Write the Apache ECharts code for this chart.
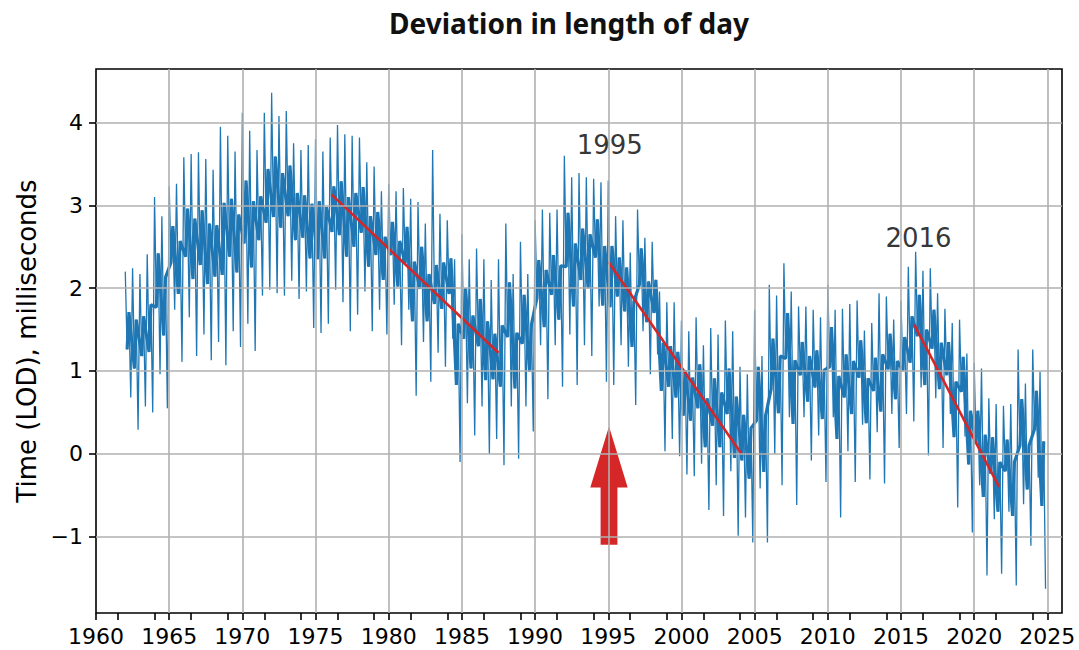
<!DOCTYPE html>
<html>
<head>
<meta charset="utf-8">
<title>Deviation in length of day</title>
<script src="https://cdn.jsdelivr.net/npm/echarts@6/dist/echarts.min.js"></script>
<style>
    html, body { margin: 0; padding: 0; background: #fff; }
    #main { width: 1079px; height: 650px; }
</style>
</head>
<body>
<div id="main"></div>
<script>
// LOD deviation in ms. 8 samples a year from 1962.0,
// each half year is: spike high, core low, core high, dip low
const lod1960s = [
    2.20, 1.26, 1.71, 0.68, 2.24, 1.03, 1.62, 0.29,   // 1962
    2.17, 1.18, 1.66, 0.57, 2.41, 1.23, 1.80, 0.50,   // 1963
    3.10, 1.77, 2.42, 0.96, 2.87, 1.43, 2.13, 0.55,   // 1964
    3.23, 2.31, 2.75, 1.74, 3.26, 1.93, 2.57, 1.11,   // 1965
    3.58, 2.38, 2.96, 1.65, 3.62, 2.11, 2.84, 1.18,   // 1966
    3.64, 2.28, 2.94, 1.44, 3.56, 2.05, 2.78, 1.13,   // 1967
    3.43, 2.14, 2.76, 1.35, 3.95, 2.16, 3.03, 1.07,   // 1968
    3.84, 2.38, 3.08, 1.48, 3.65, 2.19, 2.89, 1.29    // 1969
];
const lod1970s = [
    4.12, 2.54, 3.30, 1.57, 3.90, 2.25, 3.05, 1.24,   // 1970
    3.67, 2.58, 3.11, 1.91, 4.12, 2.79, 3.44, 1.98,
    4.36, 2.86, 3.59, 1.94, 4.08, 2.73, 3.39, 1.91,
    4.14, 2.87, 3.48, 2.09, 3.75, 2.58, 3.15, 1.87,
    3.67, 2.61, 3.12, 1.96, 3.73, 2.36, 3.02, 1.52,
    3.80, 2.35, 3.05, 1.46, 3.65, 2.36, 2.98, 1.57,   // 1975
    3.82, 2.68, 3.23, 1.98, 3.97, 2.64, 3.29, 1.83,
    3.86, 2.38, 3.10, 1.48, 3.84, 2.50, 3.15, 1.68,
    3.82, 2.67, 3.22, 1.96, 3.52, 2.26, 2.87, 1.48,
    3.47, 2.40, 2.92, 1.74, 3.17, 2.10, 2.62, 1.44
];
const lod1980s = [
    3.26, 2.40, 2.80, 1.80, 3.17, 2.02, 2.57, 1.31,   // 1980
    3.21, 2.30, 2.74, 1.74, 3.08, 1.60, 2.32, 0.70,
    3.04, 1.99, 2.50, 1.35, 2.78, 1.60, 2.17, 0.87,
    3.67, 1.81, 2.28, 1.22, 2.90, 1.75, 2.31, 1.05,
    2.82, 1.93, 2.36, 1.39, 2.35, 0.83, 1.57, -0.10,
    2.65, 1.39, 2.00, 0.61, 2.35, 1.03, 1.67, 0.22,   // 1985
    2.48, 1.30, 1.87, 0.57, 2.35, 0.89, 1.60, 0.00,
    2.10, 0.90, 1.45, 0.18, 2.35, 0.81, 1.55, -0.14,
    2.78, 1.41, 2.07, 0.57, 2.17, 0.79, 1.46, -0.06,
    2.56, 1.33, 1.92, 0.57, 2.17, 0.99, 1.56, 0.27
];
const lod1990s = [
    2.82, 1.88, 2.34, 1.31, 2.95, 1.53, 2.22, 0.66,   // 1990
    2.91, 1.92, 2.40, 1.31, 2.95, 1.62, 2.27, 0.81,
    3.60, 2.26, 2.91, 1.44, 3.34, 1.78, 2.54, 0.83,
    3.39, 2.10, 2.72, 1.31, 3.34, 2.00, 2.65, 1.18,
    3.32, 2.37, 2.83, 1.78, 3.28, 1.79, 2.51, 0.87,
    3.30, 1.77, 2.51, 0.83, 2.87, 1.90, 2.37, 1.31,   // 1995
    2.82, 1.72, 2.25, 1.05, 2.43, 1.29, 1.84, 0.59,
    2.95, 2.04, 2.48, 1.48, 2.61, 1.59, 2.08, 0.96,
    2.56, 1.70, 2.10, 1.20, 1.96, 0.76, 1.34, 0.03,
    1.83, 0.81, 1.30, 0.18, 1.83, 0.68, 1.23, -0.03
];
const lod2000s = [
    1.61, 0.46, 1.01, -0.25, 1.48, 0.40, 0.92, -0.27,  // 2000
    1.65, 0.55, 1.08, -0.12, 1.31, 0.08, 0.67, -0.68,
    1.52, 0.34, 0.91, -0.38, 1.44, 0.08, 0.74, -0.75,
    1.61, 0.48, 1.03, -0.21, 1.48, -0.05, 0.69, -0.99,
    1.05, -0.08, 0.47, -0.77, 0.96, -0.30, 0.31, -1.07,
    1.74, 0.40, 1.05, -0.42, 1.18, -0.22, 0.46, -1.07,  // 2005
    2.04, 0.78, 1.39, 0.00, 1.91, 0.49, 1.18, -0.38,
    2.30, 1.15, 1.70, 0.44, 1.96, 0.36, 1.13, -0.62,
    1.78, 0.95, 1.35, 0.44, 1.78, 0.63, 1.18, -0.08,
    1.74, 0.80, 1.25, 0.22, 1.65, 0.42, 1.01, -0.34
];
const lod2010s = [
    2.04, 1.05, 1.53, 0.44, 1.74, 0.18, 0.94, -0.77,   // 2010
    1.75, 0.68, 1.20, 0.03, 1.81, 0.48, 1.12, -0.34,
    1.85, 0.92, 1.37, 0.35, 1.49, 0.37, 0.91, -0.31,
    1.58, 0.76, 1.16, 0.26, 1.94, 0.51, 1.20, -0.36,
    1.90, 1.02, 1.45, 0.48, 1.62, 0.66, 1.12, 0.07,
    1.85, 1.00, 1.41, 0.48, 2.26, 1.10, 1.66, 0.39,    // 2015
    2.44, 1.42, 1.92, 0.80, 2.21, 0.83, 1.50, -0.02,
    2.24, 1.27, 1.74, 0.67, 1.94, 0.78, 1.34, 0.07,
    1.75, 0.95, 1.35, 0.48, 1.58, 0.20, 0.87, -0.65,
    1.62, 0.75, 1.17, 0.21, 1.21, -0.13, 0.52, -0.95
];
const lod2020s = [
    1.10, 0.12, 0.52, -0.38, 1.03, -0.52, 0.23, -1.47, // 2020
    0.67, -0.24, 0.20, -0.79, 0.60, -0.70, -0.10, -1.45,
    0.58, -0.21, 0.17, -0.70, 0.60, -0.75, -0.10, -1.59,
    1.26, 0.10, 0.66, -0.61, 0.85, -0.43, 0.10, -1.11,
    1.26, 0.30, 0.76, -0.29, 0.99, -0.63, 0.15, -1.63
];
const lodStart = 1962;
const lodStep = 0.125;

const xTicks = [1960, 1965, 1970, 1975, 1980, 1985, 1990, 1995, 2000, 2005, 2010, 2015, 2020, 2025];
const xMinorTicks = [1961.5, 1964, 1966.5, 1969, 1971.5, 1974, 1976.5, 1979, 1981.5, 1984, 1986.5, 1989,
    1991.5, 1994, 1996.5, 1999, 2001.5, 2004, 2006.5, 2009, 2011.5, 2014, 2016.5, 2019, 2021.5, 2024];
const yTicks = [-1, 0, 1, 2, 3, 4];

// red trend segments [year, ms]
const trendLines = [
    [[1976.1, 3.13], [1987.5, 1.22]],
    [[1995.0, 2.32], [2004.1, 0.00]],
    [[2015.9, 1.56], [2021.7, -0.40]]
];
const notes = [[1995.1, 3.73, '1995'], [2016.2, 2.61, '2016']];
// arrow: year, tail, tip
const arrows = [[1995.05, -1.10, 0.33]];

let lod = [].concat(lod1960s, lod1970s, lod1980s, lod1990s, lod2000s, lod2010s, lod2020s);
let lodData = lod.map((v, i) => [lodStart + i * lodStep, v]);
// the dense core of the band: the two middle samples of every half year
let coreData = lodData.filter((p, i) => i % 4 === 1 || i % 4 === 2);

let gridLines = xTicks.slice(1).map(v => ({ xAxis: v }))
    .concat(yTicks.map(v => ({ yAxis: v })));

let fontMpl = 'DejaVu Sans';
let blue = '#1f77b4';
let red = '#d62728';

var myChart = echarts.init(document.getElementById('main'), null, { renderer: 'svg' });

let series = [
    {
        name: 'grid',
        type: 'line',
        data: [],
        z: 1,
        silent: true,
        markLine: {
            silent: true,
            symbol: ['none', 'none'],
            label: { show: false },
            animation: false,
            lineStyle: { color: '#b0b0b0', width: 1.6, type: 'solid' },
            data: gridLines
        }
    },
    {
        name: 'core',
        type: 'line',
        data: coreData,
        z: 2,
        symbol: 'none',
        showSymbol: false,
        lineStyle: { color: blue, width: 3.2 }
    },
    {
        name: 'LOD',
        type: 'line',
        data: lodData,
        z: 2,
        symbol: 'none',
        showSymbol: false,
        lineStyle: { color: blue, width: 1.3 }
    }
];
trendLines.forEach(seg => {
    series.push({
        type: 'line',
        data: seg,
        z: 3,
        symbol: 'none',
        lineStyle: { color: red, width: 2.6 }
    });
});
series.push({
    type: 'custom',
    z: 4,
    data: arrows,
    renderItem: function(params, api) {
        let tail = api.coord([api.value(0), api.value(1)]);
        let tip = api.coord([api.value(0), api.value(2)]);
        let x = tip[0];
        let headLen = 61, headHalf = 18.7, shaftHalf = 8.4;
        let baseY = tip[1] + headLen;
        return {
            type: 'polygon',
            shape: {
                points: [
                    [x, tip[1]], [x + headHalf, baseY], [x + shaftHalf, baseY],
                    [x + shaftHalf, tail[1]], [x - shaftHalf, tail[1]],
                    [x - shaftHalf, baseY], [x - headHalf, baseY]
                ]
            },
            style: { fill: red }
        };
    }
});
series.push({
    type: 'scatter',
    z: 5,
    data: notes,
    symbolSize: 1,
    itemStyle: { color: 'rgba(0,0,0,0)' },
    label: {
        show: true,
        position: 'inside',
        formatter: p => p.value[2],
        fontFamily: fontMpl,
        fontSize: 26,
        color: '#000'
    }
});

option = {
    animation: false,
    backgroundColor: '#fff',
    title: {
        text: 'Deviation in length of day',
        left: 569,
        top: 9,
        padding: 0,
        textAlign: 'center',
        textStyle: {
            fontFamily: 'Noto Sans',
            fontWeight: 'bold',
            fontSize: 28,
            color: '#111'
        }
    },
    grid: {
        left: 96,
        top: 69,
        right: 17,
        bottom: 37,
        show: true,
        borderColor: '#000',
        borderWidth: 1.6,
        backgroundColor: 'transparent'
    },
    xAxis: {
        type: 'value',
        min: 1960,
        max: 2026,
        axisLine: { show: false, onZero: false },
        splitLine: { show: false },
        axisTick: {
            show: true,
            length: 7,
            lineStyle: { color: '#000', width: 1.6 },
            customValues: xTicks.concat(xMinorTicks)
        },
        axisLabel: {
            customValues: xTicks,
            formatter: v => String(v),
            fontFamily: fontMpl,
            fontSize: 22,
            color: '#000',
            margin: 12
        }
    },
    yAxis: {
        type: 'value',
        min: -1.923,
        max: 4.647,
        name: 'Time (LOD), milliseconds',
        nameLocation: 'middle',
        nameRotate: 90,
        nameGap: 52,
        nameTextStyle: { fontFamily: fontMpl, fontSize: 26, color: '#000' },
        axisLine: { show: false, onZero: false },
        splitLine: { show: false },
        axisTick: {
            show: true,
            length: 7,
            lineStyle: { color: '#000', width: 1.6 },
            customValues: yTicks
        },
        axisLabel: {
            customValues: yTicks,
            formatter: v => (v < 0 ? '\u2212' + Math.abs(v) : String(v)),
            fontFamily: fontMpl,
            fontSize: 22,
            color: '#000',
            margin: 13
        }
    },
    series: series
};

myChart.setOption(option);
</script>
</body>
</html>
